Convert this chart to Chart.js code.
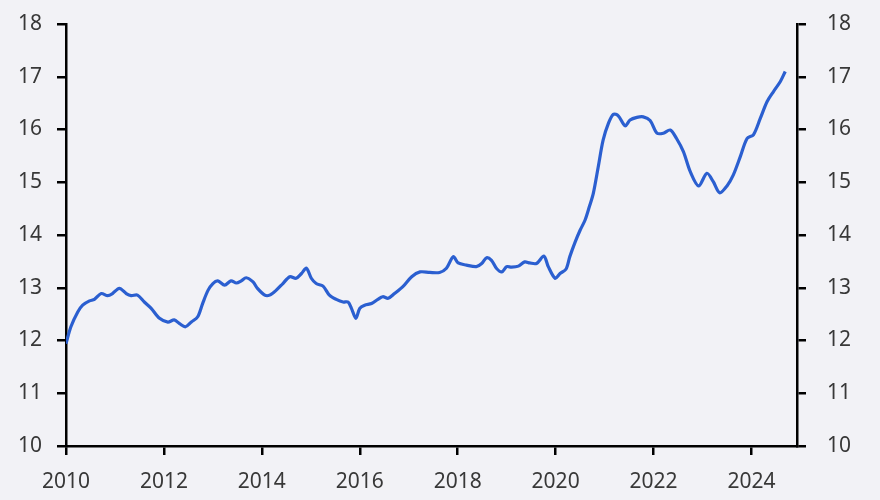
<!DOCTYPE html>
<html>
<head>
<meta charset="utf-8">
<script src="https://cdn.jsdelivr.net/npm/chart.js@4"></script>
<style>
  html, body { margin: 0; padding: 0; background: #f2f2f6; }
  #wrap { width: 880px; height: 500px; }
</style>
</head>
<body>
<div id="wrap"><canvas id="lineChart" width="880" height="500"></canvas></div>
<script>
// decimal years
const years = [
	2010.00, 2010.10, 2010.24, 2010.34, 2010.48, 2010.58, 2010.72, 2010.85, 2010.95, 2011.09,
	2011.23, 2011.33, 2011.46, 2011.60, 2011.74, 2011.91, 2012.08, 2012.21, 2012.32, 2012.44,
	2012.56, 2012.69, 2012.79, 2012.90, 2013.00, 2013.10, 2013.24, 2013.37, 2013.48, 2013.58,
	2013.68, 2013.82, 2013.90, 2014.06, 2014.16, 2014.29, 2014.43, 2014.57, 2014.70, 2014.81,
	2014.91, 2015.01, 2015.11, 2015.25, 2015.38, 2015.52, 2015.66, 2015.76, 2015.83, 2015.92,
	2016.00, 2016.10, 2016.24, 2016.37, 2016.47, 2016.58, 2016.71, 2016.88, 2017.06, 2017.23,
	2017.43, 2017.63, 2017.77, 2017.91, 2018.01, 2018.18, 2018.38, 2018.49, 2018.59, 2018.69,
	2018.79, 2018.90, 2019.00, 2019.10, 2019.24, 2019.37, 2019.47, 2019.61, 2019.76, 2019.85,
	2019.99, 2020.09, 2020.21, 2020.29, 2020.40, 2020.50, 2020.60, 2020.69, 2020.77, 2020.87,
	2020.97, 2021.08, 2021.18, 2021.28, 2021.42, 2021.52, 2021.66, 2021.79, 2021.93, 2022.07,
	2022.20, 2022.34, 2022.47, 2022.61, 2022.75, 2022.92, 2023.09, 2023.22, 2023.35, 2023.50,
	2023.63, 2023.77, 2023.91, 2024.04, 2024.18, 2024.32, 2024.45, 2024.59, 2024.69
];
const values = [
	11.94, 12.26, 12.54, 12.67, 12.75, 12.78, 12.89, 12.85, 12.89, 12.99,
	12.89, 12.85, 12.86, 12.73, 12.61, 12.42, 12.35, 12.39, 12.32, 12.26,
	12.35, 12.45, 12.70, 12.95, 13.08, 13.13, 13.05, 13.13, 13.09, 13.13,
	13.19, 13.11, 13.00, 12.86, 12.86, 12.95, 13.08, 13.21, 13.18, 13.27,
	13.37, 13.18, 13.08, 13.03, 12.86, 12.78, 12.73, 12.73, 12.61, 12.42,
	12.61, 12.67, 12.70, 12.78, 12.83, 12.80, 12.89, 13.02, 13.21, 13.30,
	13.29, 13.29, 13.37, 13.59, 13.47, 13.43, 13.40, 13.46, 13.57, 13.52,
	13.37, 13.30, 13.40, 13.39, 13.41, 13.49, 13.47, 13.46, 13.60, 13.40,
	13.18, 13.27, 13.35, 13.59, 13.87, 14.09, 14.28, 14.54, 14.79, 15.29,
	15.80, 16.12, 16.29, 16.26, 16.07, 16.18, 16.23, 16.24, 16.17, 15.93,
	15.93, 15.99, 15.83, 15.58, 15.20, 14.93, 15.17, 15.01, 14.80, 14.93,
	15.14, 15.48, 15.83, 15.90, 16.21, 16.53, 16.72, 16.91, 17.10
];
const xTicks = [2010, 2012, 2014, 2016, 2018, 2020, 2022, 2024];

const points = years.map((y, i) => ({ x: y, y: values[i] }));

const tickFont = { family: "Noto Sans", size: 21 };
const axisGrid = {
	drawOnChartArea: false,
	drawTicks: true,
	tickLength: 9,
	color: "#000",
	lineWidth: 2.5,
};
const axisBorder = { display: true, color: "#000", width: 2.5 };

// fixed side widths; drop the label overhang so the plot box stays put
const fitSide = (w) => (s) => {
	s.width = w;
	s.paddingTop = 0;
	s.paddingBottom = 0;
};

const ctx = document.getElementById("lineChart").getContext("2d");

new Chart(ctx, {
	type: "line",
	data: {
		datasets: [
			{
				data: points,
				borderColor: "#2b5fd0",
				borderWidth: 3.2,
				pointRadius: 0,
				tension: 0.3,
				fill: false,
			},
		],
	},
	options: {
		responsive: false,
		animation: false,
		layout: { padding: { top: 24, bottom: 0, left: 0, right: 0 } },
		plugins: { legend: { display: false }, tooltip: { enabled: false } },
		scales: {
			x: {
				type: "linear",
				min: 2010,
				max: 2024.93,
				afterBuildTicks: (s) => { s.ticks = xTicks.map((v) => ({ value: v })); },
				afterFit: (s) => { s.height = 54; },
				grid: axisGrid,
				border: axisBorder,
				ticks: {
					font: tickFont,
					color: "#383838",
					padding: 14,
					maxRotation: 0,
					callback: (v) => String(v),
				},
			},
			y: {
				position: "left",
				min: 10,
				max: 18,
				afterFit: fitSide(66),
				grid: axisGrid,
				border: axisBorder,
				ticks: { stepSize: 1, font: tickFont, color: "#383838", padding: 15 },
			},
			y2: {
				position: "right",
				min: 10,
				max: 18,
				afterFit: fitSide(83),
				grid: axisGrid,
				border: axisBorder,
				ticks: { stepSize: 1, font: tickFont, color: "#383838", padding: 21 },
			},
		},
	},
});
</script>
</body>
</html>
